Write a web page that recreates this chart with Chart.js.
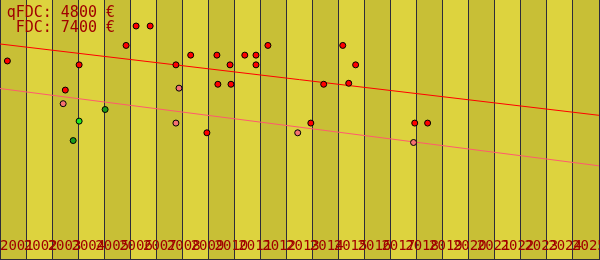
<!DOCTYPE html>
<html>
<head>
<meta charset="utf-8">
<style>
  html, body { margin: 0; padding: 0; background: #ddd33e; }
  canvas { display: block; }
</style>
</head>
<body>
<canvas id="chart" width="600" height="260"></canvas>
<script src="https://cdn.jsdelivr.net/npm/chart.js@4"></script>
<script>
// axis ranges (years / euro)
const xMin = 2001, xMax = 2026.13;
const yMin = 0, yMax = 13340;
const gridBands = 23;

const yearLabels = [2001, 2002, 2003, 2004, 2005, 2006, 2007, 2008, 2009, 2010, 2011, 2012, 2013,
  2014, 2015, 2016, 2017, 2018, 2019, 2020, 2021, 2022, 2023, 2024, 2025];

// FDC sales (red)
const fdcDates = [2001.31, 2003.74, 2004.32, 2006.29, 2006.71, 2007.30, 2008.38, 2009.00, 2009.68, 2010.10,
  2010.14, 2010.65, 2010.69, 2011.27, 2011.74, 2011.74, 2012.24, 2014.04, 2014.58, 2015.38, 2015.63, 2015.92,
  2018.40, 2018.94];
const fdcPrices = [10200, 8700, 10000, 11000, 12000, 12000, 10000, 10500, 6500, 10500,
  9000, 10000, 9000, 10500, 10500, 10000, 11000, 7000, 9000, 11000, 9050, 10000,
  7000, 7000];

// qFDC sales (pink)
const qfdcDates = [2003.65, 2008.38, 2008.51, 2013.49, 2018.35];
const qfdcPrices = [8000, 7000, 8800, 6500, 6000];

// other grades (green)
const darkGreenDates = [2004.07, 2005.41];
const darkGreenPrices = [6100, 7700];
const lightGreenDates = [2004.32];
const lightGreenPrices = [7100];

// trend lines, start and end of the x range
const fdcTrend = [11075, 7400];
const qfdcTrend = [8780, 4800];

const legendLines = ['qFDC: 4800 €', 'FDC: 7400 €'];

function points(label, xs, ys, color) {
  return {
    type: 'scatter', label: label,
    data: xs.map((x, i) => ({ x: x, y: ys[i] })),
    backgroundColor: color, borderColor: '#000', borderWidth: 1,
    pointRadius: 3, pointHoverRadius: 3
  };
}

function trend(label, ys, color) {
  return {
    type: 'line', label: label,
    data: [{ x: xMin, y: ys[0] }, { x: xMax, y: ys[1] }],
    borderColor: color, borderWidth: 1, pointRadius: 0, tension: 0, fill: false
  };
}

// no room taken by the x axes, labels sit inside the plot
function flatAxis(s) {
  s.height = 0;
  s.paddingLeft = 0;
  s.paddingRight = 0;
}

// alternating bands between the grid lines
const bandPlugin = {
  id: 'bands',
  beforeDraw(chart) {
    const ctx = chart.ctx;
    const sc = chart.scales.x;
    ctx.save();
    for (let i = 0; i < sc.ticks.length - 1; i++) {
      const a = sc.getPixelForValue(sc.ticks[i].value);
      const b = sc.getPixelForValue(sc.ticks[i + 1].value);
      ctx.fillStyle = i % 2 ? '#ddd33e' : '#c8bf36';
      ctx.fillRect(a, 0, b - a, chart.height);
    }
    ctx.restore();
  }
};

// price text in the top left corner
const legendPlugin = {
  id: 'priceText',
  afterDraw(chart) {
    const ctx = chart.ctx;
    ctx.save();
    ctx.font = '15px "DejaVu Sans Mono"';
    ctx.fillStyle = '#a00000';
    ctx.textAlign = 'right';
    ctx.textBaseline = 'alphabetic';
    legendLines.forEach((t, i) => ctx.fillText(t, 115, 17 + i * 14.5));
    ctx.restore();
  }
};

new Chart(document.getElementById('chart'), {
  type: 'scatter',
  data: {
    datasets: [
      points('FDC', fdcDates, fdcPrices, '#ff0000'),
      points('qFDC', qfdcDates, qfdcPrices, '#f57272'),
      points('green', darkGreenDates, darkGreenPrices, '#1c9a1c'),
      points('light green', lightGreenDates, lightGreenPrices, '#22e622'),
      trend('FDC trend', fdcTrend, '#ff0000'),
      trend('qFDC trend', qfdcTrend, '#ff5a6e')
    ]
  },
  options: {
    responsive: false,
    animation: false,
    devicePixelRatio: 1,
    layout: { autoPadding: false, padding: { right: 1, bottom: 1 } },
    plugins: { legend: { display: false }, tooltip: { enabled: false } },
    scales: {
      x: {
        type: 'linear', min: xMin, max: xMax,
        afterBuildTicks(s) {
          s.ticks = Array.from({ length: gridBands + 1 }, (_, i) => ({ value: xMin + i * (xMax - xMin) / gridBands }));
        },
        grid: { color: '#2e2c3a', lineWidth: 1, drawTicks: false },
        border: { display: true, color: '#2e2c3a', width: 1 },
        ticks: { display: false },
        afterFit: flatAxis
      },
      years: {
        type: 'linear', position: 'bottom', min: xMin, max: xMax,
        afterBuildTicks(s) { s.ticks = yearLabels.map(v => ({ value: v })); },
        grid: { display: false, drawTicks: false },
        border: { display: false },
        ticks: {
          autoSkip: false, maxRotation: 0, minRotation: 0, align: 'start', mirror: true, padding: 4,
          color: '#a00000', font: { family: '"DejaVu Sans Mono"', size: 14 },
          callback: v => String(v)
        },
        afterFit: flatAxis
      },
      y: { display: false, min: yMin, max: yMax }
    }
  },
  plugins: [bandPlugin, legendPlugin]
});
</script>
</body>
</html>
